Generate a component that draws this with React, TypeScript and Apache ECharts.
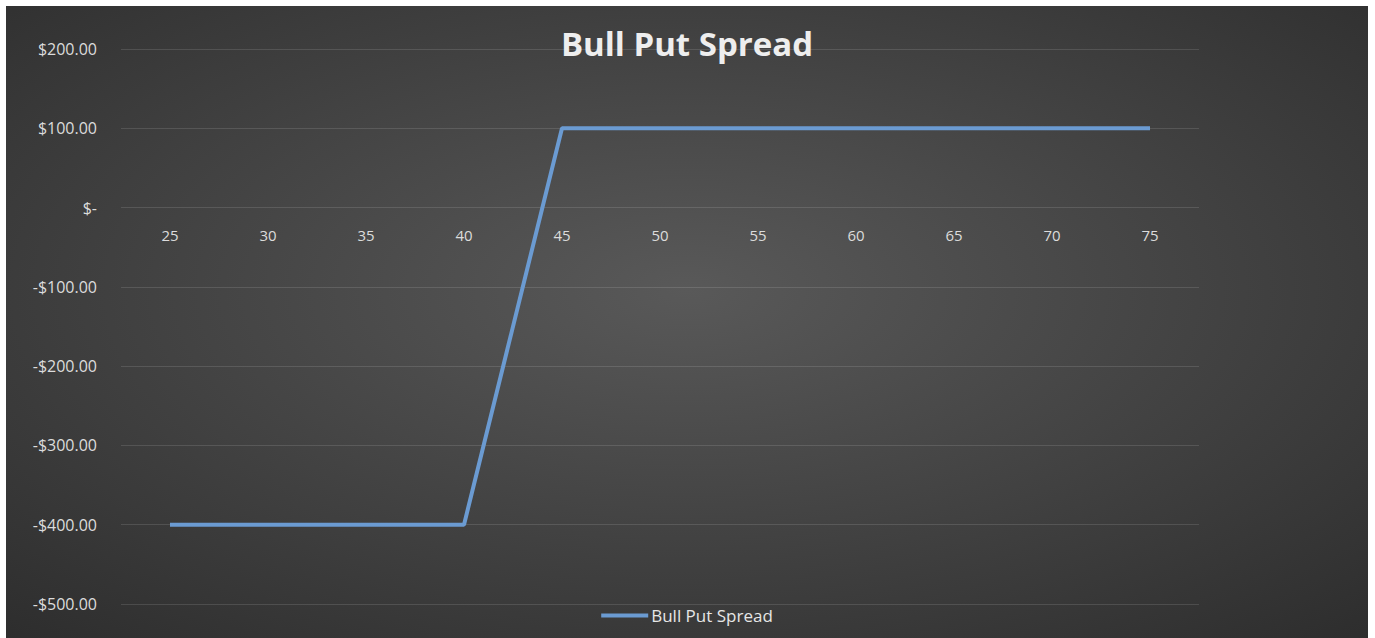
import React, { useEffect, useRef } from "react";
import * as echarts from "echarts";

const categories = ["25", "30", "35", "40", "45", "50", "55", "60", "65", "70", "75"];
const payoff = [-400, -400, -400, -400, 100, 100, 100, 100, 100, 100, 100];
const seriesName = "Bull Put Spread";
const titleText = "Bull Put Spread";

function fmtMoney(v: number): string {
  if (v === 0) return "$-";
  const s = "$" + Math.abs(v).toFixed(2);
  return v < 0 ? "-" + s : s;
}

export default function App() {
  const ref = useRef<HTMLDivElement>(null);
  useEffect(() => {
    document.body.style.margin = "0";
    const chart = echarts.init(ref.current!, undefined, { renderer: "svg" });
    chart.setOption({
      animation: false,
      backgroundColor: {
        type: "radial",
        x: 0.5,
        y: 0.45,
        r: 0.75,
        colorStops: [
          { offset: 0, color: "#595959" },
          { offset: 1, color: "#2d2d2d" },
        ],
      },
      title: {
        text: titleText,
        left: "center",
        top: 16,
        textStyle: {
          color: "#eeeeee",
          fontSize: 33,
          fontWeight: "bold",
          fontFamily: "Open Sans",
        },
      },
      legend: {
        data: [seriesName],
        left: "center",
        top: 596,
        icon: "rect",
        itemWidth: 47,
        itemHeight: 4,
        itemGap: 4,
        textStyle: { color: "#e6e6e6", fontSize: 17, fontFamily: "Open Sans", padding: [0, 0, 0, -2] },
      },
      grid: { left: 115, right: 169, top: 43, bottom: 34, containLabel: false },
      xAxis: {
        type: "category",
        data: categories,
        boundaryGap: true,
        axisLine: { show: false },
        axisTick: { show: false },
        axisLabel: {
          color: "#dcdcdc",
          fontSize: 15,
          fontFamily: "Open Sans",
          margin: 20,
        },
        position: "bottom",
        offset: -396.4,
      },
      yAxis: {
        type: "value",
        min: -500,
        max: 200,
        interval: 100,
        axisLine: { show: false },
        axisTick: { show: false },
        splitLine: { lineStyle: { color: "rgba(255,255,255,0.12)", width: 1 } },
        axisLabel: {
          color: "#dcdcdc",
          fontSize: 16,
          fontFamily: "Open Sans",
          margin: 24,
          formatter: (v: number) => fmtMoney(v),
        },
      },
      series: [
        {
          name: seriesName,
          type: "line",
          data: payoff,
          symbol: "none",
          lineStyle: { color: "#6b9bd2", width: 4 },
          itemStyle: { color: "#6b9bd2" },
        },
      ],
    });
    return () => chart.dispose();
  }, []);
  return (
    <div style={{ position: "relative", width: 1375, height: 638, background: "#fff", overflow: "hidden" }}>
      <div ref={ref} style={{ position: "absolute", left: 6, top: 6, width: 1362, height: 632 }} />
    </div>
  );
}
